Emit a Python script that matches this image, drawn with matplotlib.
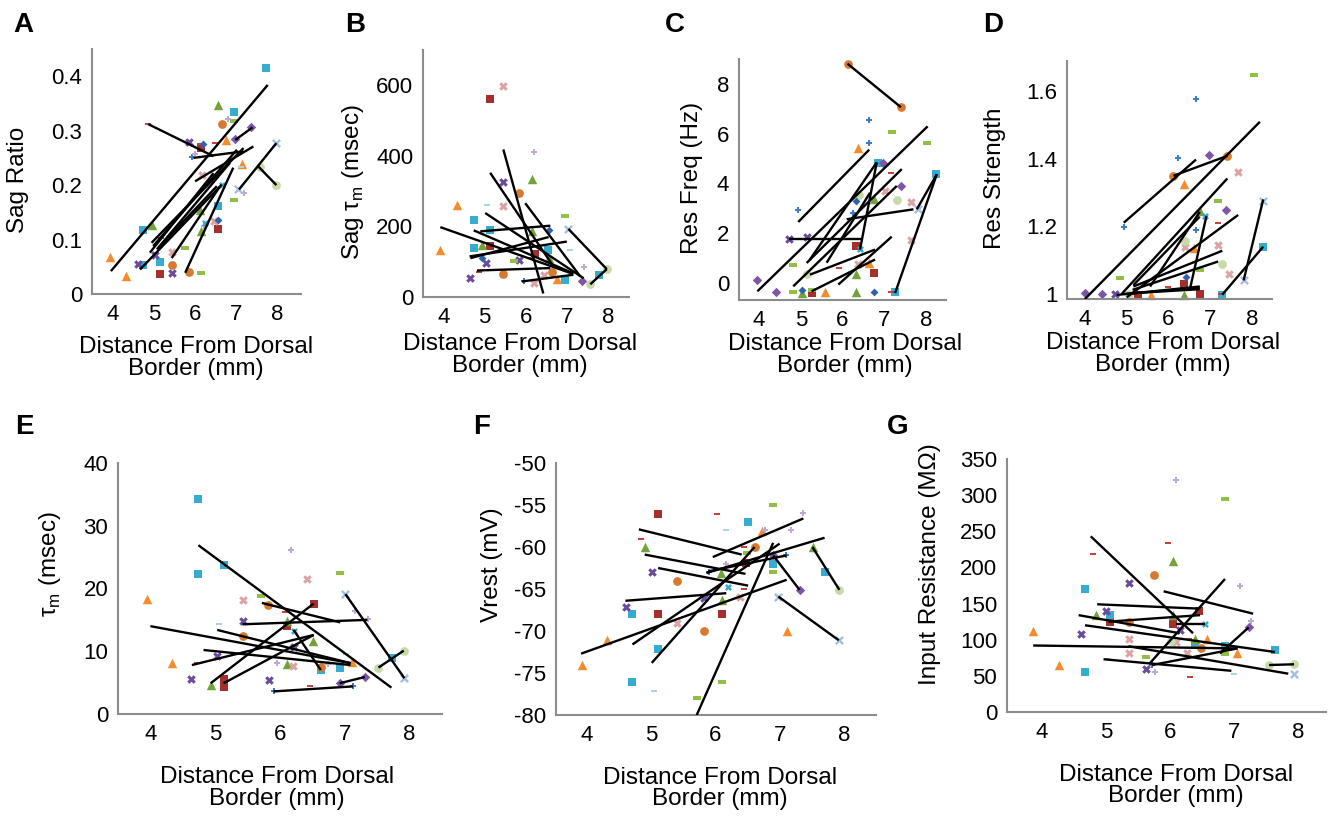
import matplotlib
matplotlib.use('Agg')
import matplotlib.pyplot as plt

plt.rcParams['font.family'] = ['Liberation Sans', 'DejaVu Sans']
plt.rcParams['axes.unicode_minus'] = False
plt.rcParams['mathtext.fontset'] = 'custom'
plt.rcParams['mathtext.rm'] = 'Liberation Sans'

# ---- datos (x = distancia, y = valor, k = celula) ----
# A  Sag ratio
a_x = [7.72, 6.57, 6.96, 6.81, 6.96, 6.65, 4.86, 7.36, 6.76, 6.98, 5.85, 6.15, 6.12, 6.49, 6.19, 5.93, 5.99,
       7.15, 7.12, 7.57, 7.96, 7.96, 6.16, 6.65, 7.05, 7.20, 6.96, 6.57, 6.12, 6.24, 6.45, 6.57, 6.22, 6.57,
       6.15, 4.74, 4.96, 5.17, 5.02, 4.62, 4.74, 5.14, 5.44, 5.76, 5.44, 5.14, 5.44, 5.85, 6.15, 3.93, 4.33]
a_y = [0.415, 0.348, 0.335, 0.322, 0.317, 0.313, 0.312, 0.306, 0.283, 0.285, 0.280, 0.268, 0.276, 0.277,
       0.276, 0.251, 0.257, 0.239, 0.233, 0.234, 0.277, 0.200, 0.218, 0.200, 0.192, 0.186, 0.172, 0.161,
       0.154, 0.131, 0.134, 0.136, 0.125, 0.120, 0.116, 0.118, 0.126, 0.102, 0.072, 0.055, 0.054, 0.058,
       0.077, 0.085, 0.054, 0.037, 0.039, 0.041, 0.038, 0.068, 0.033]
a_k = ['cs', 'gt', 'cs', 'lp', 'gd', 'oc', 'rd', 'pd', 'ot', 'pd', 'px', 'rs', 'rd', 'rd', 'db', 'bp', 'lp',
       'ot', 'bd', 'lc', 'lx', 'lc', 'kx', 'cx', 'lx', 'lp', 'gd', 'cs', 'gt', 'cx', 'kx', 'db', 'lp', 'rs',
       'gt', 'cs', 'gt', 'rd', 'px', 'px', 'cs', 'cs', 'kx', 'gd', 'oc', 'rs', 'px', 'oc', 'gd', 'ot', 'ot']
a_fit = [(4.86, 0.312, 6.45, 0.253), (3.95, 0.042, 7.77, 0.384), (5.96, 0.250, 7.18, 0.262),
         (6.98, 0.283, 7.40, 0.306), (7.53, 0.235, 7.98, 0.200), (7.07, 0.192, 7.98, 0.277),
         (6.00, 0.207, 7.42, 0.271), (4.66, 0.045, 6.65, 0.201), (4.94, 0.094, 7.18, 0.268),
         (4.98, 0.088, 7.02, 0.265), (5.15, 0.088, 6.53, 0.198), (5.07, 0.082, 6.85, 0.241),
         (4.90, 0.076, 6.45, 0.222), (5.43, 0.066, 6.61, 0.198), (5.76, 0.039, 6.93, 0.232)]

# B  Sag tau
b_x = [5.44, 5.14, 6.21, 6.15, 5.44, 5.84, 4.33, 5.06, 5.44, 6.96, 4.74, 7.04, 5.14, 6.15, 6.56, 3.93, 7.08,
       4.74, 4.94, 5.14, 5.04, 4.94, 5.72, 5.84, 6.12, 6.22, 6.54, 6.56, 7.41, 6.65, 6.45, 6.76, 6.96, 7.77,
       7.97, 7.57, 7.37, 5.44, 4.86, 4.64, 5.95, 6.21]
b_y = [598, 560, 410, 333, 327, 295, 262, 262, 259, 230, 219, 193, 191, 186, 191, 132, 134, 139, 148, 145,
       96, 110, 102, 105, 110, 122, 134, 111, 84, 72, 63, 51, 48, 63, 79, 36, 44, 65, 70, 53, 44, 39]
b_k = ['kx', 'rs', 'lp', 'gt', 'px', 'oc', 'ot', 'bd', 'kx', 'gd', 'cs', 'lx', 'cs', 'gt', 'db', 'ot', 'bd',
       'cs', 'gt', 'rs', 'px', 'db', 'gd', 'px', 'rd', 'rs', 'cs', 'gt', 'lp', 'oc', 'kx', 'ot', 'cs', 'cs',
       'lc', 'lc', 'pd', 'oc', 'rd', 'px', 'bp', 'kx']
b_fit = [(3.93, 198, 7.16, 65), (5.46, 418, 6.43, 10), (5.14, 352, 6.68, 86), (5.99, 266, 7.33, 58),
         (7.04, 193, 7.97, 79), (7.57, 36, 7.97, 79), (5.02, 238, 7.41, 53), (4.74, 189, 7.16, 67),
         (4.66, 110, 6.56, 170), (4.82, 75, 6.60, 82), (4.90, 186, 6.60, 202), (4.64, 115, 7.00, 157),
         (5.91, 44, 7.16, 63)]

# C  Res freq
c_x = [6.12, 7.40, 6.63, 7.18, 6.63, 6.38, 8.03, 6.96, 6.85, 7.17, 8.24, 7.39, 7.02, 6.40, 6.75, 7.30, 6.32,
       7.65, 7.82, 4.93, 6.24, 4.72, 5.14, 6.32, 6.42, 7.65, 4.82, 5.92, 6.63, 6.38, 6.32, 6.75, 5.14, 3.96,
       4.40, 4.82, 5.04, 5.04, 5.26, 5.26, 5.58, 6.32, 6.75, 7.17, 7.25]
c_y = [8.81, 7.06, 6.56, 6.07, 5.62, 5.40, 5.60, 4.81, 4.83, 4.42, 4.36, 3.89, 3.69, 3.52, 3.35, 3.31, 3.29,
       3.26, 2.98, 2.92, 2.79, 1.77, 1.85, 1.47, 1.35, 1.73, 0.70, 0.59, 0.78, 0.74, 0.36, 0.39, 0.36, 0.12,
       -0.38, -0.38, -0.28, -0.40, -0.41, -0.30, -0.39, -0.39, -0.39, -0.39, -0.39]
c_k = ['oc', 'oc', 'bp', 'gd', 'bp', 'ot', 'gd', 'pd', 'cs', 'rd', 'cs', 'pd', 'kx', 'lc', 'gt', 'lc', 'db',
       'kx', 'lx', 'bp', 'bp', 'px', 'px', 'rs', 'cx', 'kx', 'gd', 'rd', 'ot', 'kx', 'gt', 'rs', 'lc', 'pd',
       'pd', 'gd', 'db', 'gt', 'rs', 'gd', 'ot', 'gt', 'db', 'rd', 'cs']
c_fit = [(6.12, 8.81, 7.40, 7.06), (4.94, 2.44, 6.64, 5.35), (3.96, -0.35, 8.04, 6.29),
         (4.71, 1.76, 6.49, 1.76), (5.14, 0.79, 7.42, 4.57), (4.82, -0.15, 7.30, 3.89),
         (5.22, 0.93, 6.82, 4.84), (6.42, 1.33, 6.82, 4.84), (6.10, 2.55, 7.70, 2.95),
         (5.22, 0.32, 6.78, 1.33), (5.26, -0.35, 6.78, 0.93), (5.90, -0.08, 7.18, 1.85),
         (7.26, -0.42, 8.26, 4.36), (7.78, 2.95, 8.26, 4.36), (5.62, 0.80, 6.66, 3.62)]

# D  Res strength
d_x = [8.05, 6.66, 6.97, 7.41, 6.23, 6.12, 6.38, 7.66, 7.19, 7.39, 8.27, 6.75, 6.87, 7.19, 4.93, 6.66, 6.39,
       6.39, 7.18, 6.60, 8.27, 7.29, 7.46, 6.75, 4.84, 7.80, 4.00, 4.40, 4.72, 5.58, 5.28, 5.05, 6.75, 7.29,
       7.25, 6.37, 6.37, 5.99, 6.41]
d_y = [1.648, 1.576, 1.413, 1.409, 1.402, 1.350, 1.325, 1.362, 1.275, 1.248, 1.275, 1.246, 1.230, 1.210,
       1.197, 1.190, 1.157, 1.140, 1.145, 1.135, 1.140, 1.088, 1.060, 1.070, 1.046, 1.040, 1.002, 1.000,
       1.000, 0.997, 0.997, 1.000, 1.000, 0.998, 1.000, 0.998, 1.030, 1.020, 1.050]
d_k = ['gd', 'bp', 'pd', 'oc', 'bp', 'oc', 'ot', 'kx', 'gd', 'pd', 'lx', 'gt', 'cx', 'rd', 'bp', 'bp', 'lc',
       'kx', 'kx', 'ot', 'cs', 'lc', 'kx', 'gd', 'gd', 'lx', 'pd', 'pd', 'px', 'ot', 'rs', 'lc', 'rs', 'cs',
       'rd', 'gt', 'rs', 'rd', 'db']
d_fit = [(4.93, 1.211, 6.66, 1.398), (6.12, 1.350, 7.41, 1.409), (4.00, 0.985, 8.19, 1.510),
         (4.88, 1.000, 7.41, 1.342), (5.00, 0.990, 7.67, 1.234), (5.16, 1.022, 7.29, 1.128),
         (5.14, 1.012, 7.19, 1.096), (5.16, 1.026, 6.75, 1.229), (5.56, 1.022, 6.75, 1.243),
         (6.51, 1.012, 6.91, 1.231), (4.76, 0.997, 6.75, 1.022), (4.95, 1.000, 6.75, 1.018),
         (5.10, 1.002, 6.75, 1.014), (7.29, 0.998, 8.27, 1.140), (7.80, 1.040, 8.27, 1.280)]

# E  tau m
e_x = [4.74, 4.74, 5.13, 3.94, 4.33, 6.17, 6.42, 6.92, 5.43, 5.71, 5.82, 6.52, 6.08, 7.01, 5.43, 5.06, 6.11,
       6.11, 7.36, 7.16, 6.21, 5.43, 6.51, 6.21, 7.91, 7.73, 7.52, 7.02, 5.03, 4.72, 5.96, 6.11, 6.20, 6.46,
       6.63, 6.63, 6.92, 7.11, 6.74, 4.63, 5.83, 4.93, 5.13, 5.13, 6.46, 6.92, 7.31, 5.90, 7.13, 7.92]
e_y = [34.2, 22.3, 23.7, 18.4, 8.1, 26.2, 21.5, 22.5, 18.2, 18.8, 17.3, 17.5, 16.2, 19.1, 14.8, 14.3, 14.9,
       14.1, 15.1, 16.4, 13.2, 12.4, 11.7, 10.6, 10.1, 8.9, 7.4, 9.6, 9.2, 8.2, 8.1, 8.0, 7.7, 8.5, 7.5, 7.0,
       7.4, 8.3, 8.0, 5.5, 5.4, 4.6, 4.35, 5.5, 4.4, 4.9, 5.9, 3.6, 4.4, 5.7]
e_k = ['cs', 'cs', 'cs', 'ot', 'ot', 'lp', 'kx', 'gd', 'kx', 'gd', 'oc', 'rs', 'rd', 'lx', 'px', 'bd', 'gt',
       'rs', 'lp', 'lp', 'cx', 'oc', 'gt', 'px', 'lc', 'cs', 'lc', 'bd', 'px', 'rd', 'lp', 'gt', 'kx', 'rd',
       'oc', 'cs', 'cs', 'ot', 'lp', 'px', 'px', 'gt', 'rs', 'rs', 'rd', 'pd', 'pd', 'bp', 'bp', 'lx']
e_fit = [(4.74, 26.9, 7.72, 4.2), (4.00, 14.0, 7.09, 8.1), (5.03, 13.4, 7.09, 8.1), (4.82, 10.2, 7.09, 7.8),
         (7.01, 19.1, 7.92, 5.7), (7.52, 7.4, 7.91, 10.1), (6.92, 4.9, 7.31, 5.9), (5.90, 3.6, 7.13, 4.4),
         (5.42, 14.3, 7.35, 15.0), (5.72, 17.7, 6.93, 14.6), (4.93, 4.9, 6.52, 17.6), (5.13, 4.9, 6.52, 12.6),
         (4.64, 7.8, 6.52, 12.6), (6.21, 13.4, 6.63, 7.0)]

# F  Vrest
f_x = [5.11, 6.03, 6.90, 7.36, 6.51, 6.17, 6.72, 6.78, 7.17, 4.84, 4.91, 6.62, 6.45, 6.50, 7.52, 6.90, 7.10,
       6.48, 6.17, 6.90, 5.02, 5.90, 6.09, 6.90, 7.70, 5.41, 6.19, 6.45, 7.31, 7.93, 5.82, 6.10, 6.39, 6.98,
       4.61, 4.71, 5.11, 6.10, 5.41, 5.82, 7.11, 4.31, 7.92, 5.11, 3.92, 4.71, 6.10, 5.04, 5.71]
f_y = [-56.1, -56.1, -55.0, -56.0, -57.0, -58.0, -58.1, -58.0, -58.0, -59.0, -60.0, -60.0, -60.0, -60.7,
       -60.0, -61.0, -60.9, -61.9, -62.0, -62.0, -63.0, -63.0, -63.1, -63.0, -63.0, -64.0, -64.8, -65.0,
       -65.1, -65.1, -66.1, -66.3, -66.0, -65.9, -67.2, -68.0, -68.0, -68.0, -69.0, -70.0, -70.0, -71.1,
       -71.1, -72.1, -74.0, -76.1, -76.1, -77.1, -78.0]
f_k = ['rs', 'rd', 'gd', 'lp', 'cs', 'bd', 'ot', 'lp', 'lp', 'rd', 'gt', 'oc', 'rd', 'gd', 'gt', 'pd', 'bp',
       'rs', 'lp', 'cs', 'px', 'bp', 'gt', 'gd', 'cs', 'oc', 'cx', 'rd', 'pd', 'lc', 'px', 'gt', 'kx', 'lx',
       'px', 'cs', 'rs', 'rs', 'kx', 'oc', 'ot', 'ot', 'lx', 'cs', 'ot', 'cs', 'gd', 'bd', 'gd']
f_fit = [(4.81, -57.9, 6.41, -60.9), (4.90, -60.9, 6.47, -63.2), (5.11, -62.5, 6.51, -64.6),
         (5.96, -61.2, 7.37, -56.6), (4.60, -66.4, 6.17, -65.5), (3.91, -72.7, 7.11, -63.9),
         (4.71, -71.6, 7.00, -59.6), (5.01, -73.8, 6.61, -60.0), (5.71, -80.0, 6.90, -59.5),
         (5.86, -63.1, 7.70, -58.9), (6.90, -61.0, 7.31, -65.1), (7.51, -60.0, 7.93, -65.1),
         (6.98, -65.9, 7.92, -71.1), (5.89, -62.9, 7.11, -61.0)]

# G  Input resistance
g_x = [6.10, 6.86, 5.97, 4.79, 6.05, 5.75, 5.36, 7.09, 4.67, 6.46, 5.00, 5.06, 4.85, 6.05, 5.06, 5.36, 6.05,
       6.54, 7.27, 7.23, 6.15, 3.86, 4.60, 5.36, 6.30, 6.39, 6.58, 6.02, 6.10, 6.39, 6.49, 6.86, 7.64, 6.86,
       7.04, 5.36, 6.27, 5.62, 4.27, 7.55, 7.94, 5.02, 5.72, 5.62, 4.67, 5.76, 7.00, 7.94, 6.31]
g_y = [321, 294, 234, 219, 209, 189, 179, 174, 170, 140, 140, 134, 134, 134, 124, 124, 122, 122, 126, 117,
       113, 112, 108, 101, 101, 101, 101, 98, 97, 93, 89, 91, 86, 80, 82, 82, 82, 76, 65, 65, 66, 73, 65, 60,
       55, 55, 53, 52, 48]
g_k = ['lp', 'gd', 'rd', 'rd', 'gt', 'oc', 'px', 'lp', 'cs', 'rs', 'px', 'cs', 'gt', 'gt', 'rs', 'oc', 'rs',
       'cx', 'lp', 'pd', 'px', 'ot', 'px', 'kx', 'rd', 'gt', 'ot', 'lc', 'kx', 'cs', 'oc', 'cs', 'cs', 'gd',
       'ot', 'kx', 'kx', 'gd', 'ot', 'lc', 'lc', 'bd', 'bp', 'px', 'cs', 'lp', 'bd', 'lx', 'rd']
g_fit = [(4.76, 243, 6.36, 109), (3.86, 92, 7.04, 88), (5.90, 167, 7.30, 136), (4.86, 149, 6.46, 143),
         (4.57, 134, 6.15, 109), (5.04, 125, 6.47, 134), (4.67, 120, 7.64, 83), (5.68, 67, 6.86, 184),
         (4.96, 73, 6.96, 57), (5.35, 91, 7.85, 53), (5.72, 65, 7.06, 88), (6.78, 81, 7.23, 117),
         (7.55, 65, 7.94, 66), (6.10, 122, 6.54, 122)]

x_ticks = [4, 5, 6, 7, 8]

# estilos de marcador estilo Excel
dash = [(-1, -0.45), (1, -0.45), (1, 0.45), (-1, 0.45)]
estilos = {
    'rs': ('#a3302c', 's', 6.0), 'cs': ('#35acd0', 's', 6.0),
    'gt': ('#72a23a', '^', 6.8), 'ot': ('#f58b2c', '^', 6.8),
    'px': ('#6a4a9c', 'X', 6.2), 'kx': ('#dba3a3', 'X', 6.2),
    'oc': ('#d57a30', 'o', 6.3), 'lc': ('#c7daa8', 'o', 6.3),
    'gd': ('#8fbf45', dash, 6.0), 'rd': ('#c8413c', dash, 4.2),
    'bd': ('#a9d3e6', dash, 4.6), 'bp': ('#3d7acb', 'P', 4.8),
    'lp': ('#bca9d6', 'P', 4.8), 'pd': ('#7f55a8', 'D', 4.8),
    'db': ('#2f62ad', 'D', 4.0), 'lx': ('#a2bee0', 'x', 5.2),
    'cx': ('#36a7c8', 'X', 5.0),
}

paneles = [
    # letra, (izq, arriba, der, abajo) en px, datos, limites, ticks y, etiqueta y, pos. etiquetas
    ('A', (92, 49, 301, 294), (13, 12), a_x, a_y, a_k, a_fit, (3.49, 8.58), (0, 0.45),
     [0, 0.1, 0.2, 0.3, 0.4], ['0', '0.1', '0.2', '0.3', '0.4'], 'Sag Ratio',
     (-0.354, 0.465), (0.498, -0.261)),
    ('B', (423, 50, 629, 297), (345, 12), b_x, b_y, b_k, b_fit, (3.51, 8.51), (0, 700),
     [0, 200, 400, 600], ['0', '200', '400', '600'], 'Sag τ$_{\\mathrm{m}}$ (msec)',
     (-0.34, 0.466), (0.471, -0.235)),
    ('C', (739, 59, 946, 300), (665, 12), c_x, c_y, c_k, c_fit, (3.52, 8.48), (-0.7, 9.0),
     [0, 2, 4, 6, 8], ['0', '2', '4', '6', '8'], 'Res Freq (Hz)',
     (-0.227, 0.506), (0.512, -0.228)),
    ('D', (1067, 61, 1272, 299), (983, 12), d_x, d_y, d_k, d_fit, (3.57, 8.48), (0.985, 1.69),
     [1, 1.2, 1.4, 1.6], ['1', '1.2', '1.4', '1.6'], 'Res Strength',
     (-0.351, 0.508), (0.468, -0.231)),
    ('E', (118, 463, 442, 714), (15, 414), e_x, e_y, e_k, e_fit, (3.5, 8.5), (0, 40),
     [0, 10, 20, 30, 40], ['0', '10', '20', '30', '40'], 'τ$_{\\mathrm{m}}$ (msec)',
     (-0.21, 0.598), (0.491, -0.295)),
    ('F', (556, 463, 876, 715), (473, 414), f_x, f_y, f_k, f_fit, (3.52, 8.5), (-80, -50),
     [-80, -75, -70, -65, -60, -55, -50], ['-80', '-75', '-70', '-65', '-60', '-55', '-50'], 'Vrest (mV)',
     (-0.2, 0.595), (0.512, -0.29)),
    ('G', (1007, 459, 1326, 712), (887, 414), g_x, g_y, g_k, g_fit, (3.45, 8.44), (0, 350),
     [0, 50, 100, 150, 200, 250, 300, 350], ['0', '50', '100', '150', '200', '250', '300', '350'],
     'Input Resistance (MΩ)', (-0.241, 0.585), (0.53, -0.292)),
]

W, H = 1328, 817
fig = plt.figure(figsize=(W / 100, H / 100), dpi=100)

for (letra, caja, pos_letra, xs, ys, ks, fits, xlim, ylim, yt, ytl, ylab, ypos, xpos) in paneles:
    l, t, r, b = caja
    ax = fig.add_axes([l / W, 1 - b / H, (r - l) / W, (b - t) / H])

    # puntos por celula
    for k in estilos:
        px = [x for x, kk in zip(xs, ks) if kk == k]
        py = [y for y, kk in zip(ys, ks) if kk == k]
        if not px:
            continue
        color, marker, ms = estilos[k]
        lw = 1.7 if marker == 'x' else 0
        ax.scatter(px, py, s=ms ** 2, marker=marker, color=color, linewidths=lw, zorder=2, clip_on=False)

    # rectas de tendencia
    for x0, y0, x1, y1 in fits:
        ax.plot([x0, x1], [y0, y1], color='black', lw=1.7, zorder=3, solid_capstyle='butt')

    ax.set_xlim(xlim)
    ax.set_ylim(ylim)
    ax.set_xticks(x_ticks)
    ax.set_yticks(yt)
    ax.set_yticklabels(ytl)
    ax.tick_params(length=0, labelsize=16, pad=7)
    for s in ['top', 'right']:
        ax.spines[s].set_visible(False)
    for s in ['left', 'bottom']:
        ax.spines[s].set_color('#8c8c8c')
        ax.spines[s].set_linewidth(1.5)

    ax.set_ylabel(ylab, fontsize=17.5)
    ax.yaxis.set_label_coords(*ypos)
    ax.yaxis.label.set_verticalalignment('center')
    ax.set_xlabel('Distance From Dorsal\nBorder (mm)', fontsize=17.5, linespacing=0.95)
    ax.xaxis.set_label_coords(*xpos)
    ax.xaxis.label.set_verticalalignment('center')

    fig.text(pos_letra[0] / W, 1 - pos_letra[1] / H, letra, fontsize=20, fontweight='bold',
             ha='left', va='top')

plt.savefig('out.png', dpi=100)
